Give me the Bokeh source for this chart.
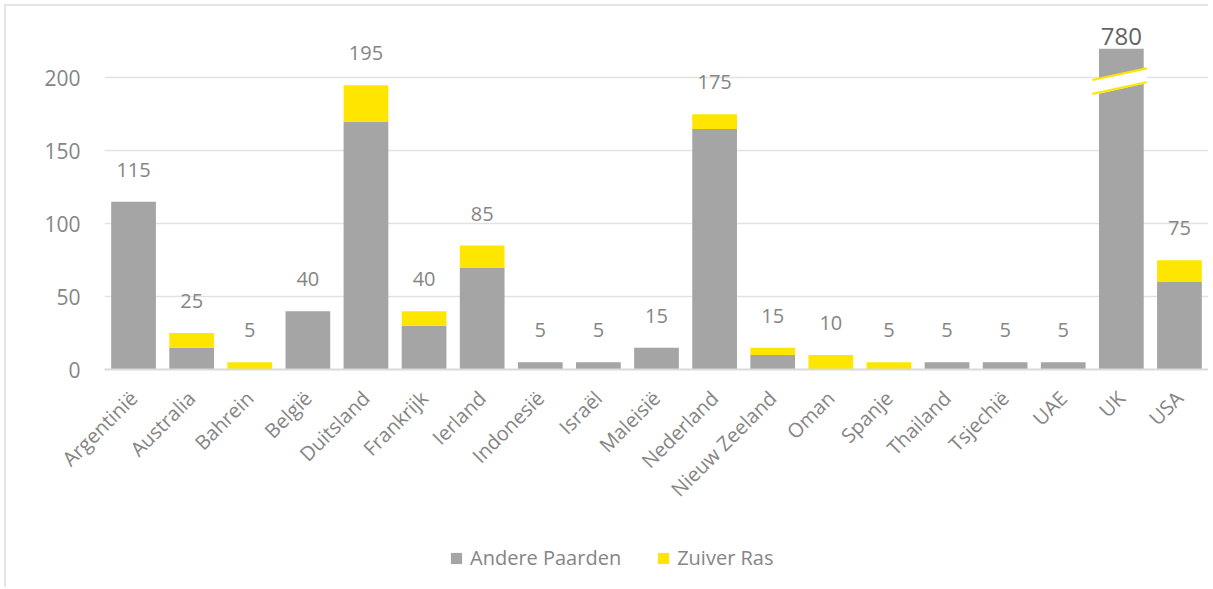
from bokeh.plotting import figure
from bokeh.models import ColumnDataSource, FixedTicker, Legend, LegendItem, FactorRange, Range1d
from bokeh.layouts import column
from bokeh.core.properties import value
from bokeh.embed import file_html
from bokeh.resources import INLINE

countries = ["Argentinië", "Australia", "Bahrein", "België", "Duitsland", "Frankrijk",
             "Ierland", "Indonesië", "Israël", "Maleisië", "Nederland", "Nieuw Zeeland",
             "Oman", "Spanje", "Thailand", "Tsjechië", "UAE", "UK", "USA"]
andere_paarden = [115, 15, 0, 40, 170, 30, 70, 5, 5, 15, 165, 10, 0, 0, 5, 5, 5, 780, 60]
zuiver_ras = [0, 10, 5, 0, 25, 10, 15, 0, 0, 0, 10, 5, 10, 5, 0, 0, 0, 0, 15]
series_names = ["Andere Paarden", "Zuiver Ras"]
y_ticks = [0, 50, 100, 150, 200]

CAP = 220          # axis break: bars taller than this are drawn truncated
BROKEN = "UK"

FONT = "Open Sans"
GREY = "#a5a5a5"
YELLOW = "#ffe600"
TXT = "#858585"

totals = [a + z for a, z in zip(andere_paarden, zuiver_ras)]
andere_disp = [min(a, CAP) for a in andere_paarden]
zuiver_top = [min(a, CAP) + z for a, z in zip(andere_paarden, zuiver_ras)]

src = ColumnDataSource(dict(x=countries, a=andere_disp, z0=andere_disp, z1=zuiver_top))

p = figure(x_range=FactorRange(*countries, range_padding=0), y_range=(0, 240),
           width=1202, height=513, output_backend="svg", toolbar_location=None,
           min_border_left=98, min_border_right=0, min_border_top=13, min_border_bottom=150)
p.outline_line_color = None
p.x_range.factor_padding = 0

r1 = p.vbar(x="x", top="a", bottom=0, width=0.77, fill_color=GREY, line_color=None, source=src)
r2 = p.vbar(x="x", top="z1", bottom="z0", width=0.77, fill_color=YELLOW, line_color=None, source=src)

# axis-break marker on the truncated bar
bi = countries.index(BROKEN)
p.patch(x=[(BROKEN, -0.5), (BROKEN, 0.44), (BROKEN, 0.44), (BROKEN, -0.5)],
        y=[188, 196.5, 207, 198.5], color="white", line_color=None)
p.line(x=[(BROKEN, -0.5), (BROKEN, 0.44)], y=[189, 197], line_color=YELLOW, line_width=2.2)
p.line(x=[(BROKEN, -0.5), (BROKEN, 0.44)], y=[198.5, 206.5], line_color=YELLOW, line_width=2.2)

# value labels
lab_x = [c for c in countries if c != BROKEN]
lab_y = [t for c, t in zip(countries, totals) if c != BROKEN]
p.text(x=lab_x, y=lab_y, text=[str(v) for v in lab_y], text_align="center",
       text_baseline="alphabetic", y_offset=-32, text_font=value(FONT),
       text_font_size="20px", text_color=TXT)
p.text(x=[BROKEN], y=[CAP], text=[str(totals[bi])], text_align="center",
       text_baseline="alphabetic", y_offset=-12, text_font=value(FONT),
       text_font_size="24px", text_color="#636363")

p.xgrid.grid_line_color = None
p.ygrid.grid_line_color = "#e2e2e2"
p.ygrid.grid_line_width = 1.5
p.ygrid.ticker = FixedTicker(ticks=y_ticks)

p.yaxis.ticker = FixedTicker(ticks=y_ticks)
p.yaxis.axis_line_color = None
p.yaxis.major_tick_line_color = None
p.yaxis.minor_tick_line_color = None
p.yaxis.major_tick_out = 0
p.yaxis.major_label_standoff = 24
p.yaxis.major_label_text_font = FONT
p.yaxis.major_label_text_font_size = "21px"
p.yaxis.major_label_text_color = TXT

p.xaxis.axis_line_color = "#dadada"
p.xaxis.axis_line_width = 2
p.xaxis.major_tick_line_color = None
p.xaxis.major_tick_out = 0
p.xaxis.major_label_standoff = 25
p.xaxis.major_label_orientation = 0.785398
p.xaxis.major_label_text_font = FONT
p.xaxis.major_label_text_font_size = "20px"
p.xaxis.major_label_text_color = TXT

# legend strip below the chart (its swatch renderers sit outside the visible range)
lg = figure(x_range=FactorRange(*countries), y_range=Range1d(1000, 1001),
            width=1202, height=68, output_backend="svg", toolbar_location=None,
            x_axis_type=None, y_axis_type=None, min_border=0)
lg.outline_line_color = None
k1 = lg.vbar(x="x", top="a", bottom=0, width=0.77, fill_color=GREY, line_color=None, source=src)
k2 = lg.vbar(x="x", top="z1", bottom="z0", width=0.77, fill_color=YELLOW, line_color=None, source=src)
legend = Legend(items=[LegendItem(label=series_names[0], renderers=[k1]),
                       LegendItem(label=series_names[1], renderers=[k2])],
                orientation="horizontal", location=(345, 16),
                glyph_width=14, glyph_height=14, label_standoff=7, spacing=35,
                padding=0, margin=0, border_line_color=None, background_fill_alpha=0,
                label_text_font=FONT, label_text_font_size="20px", label_text_color=TXT)
lg.add_layout(legend, "center")

page = column(p, lg, spacing=0)
page.styles = {"border-left": "2px solid #e4e4e4", "border-top": "2px solid #e4e4e4",
               "margin-left": "4px", "margin-top": "4px"}

open("out.html", "w").write(file_html(page, INLINE))
